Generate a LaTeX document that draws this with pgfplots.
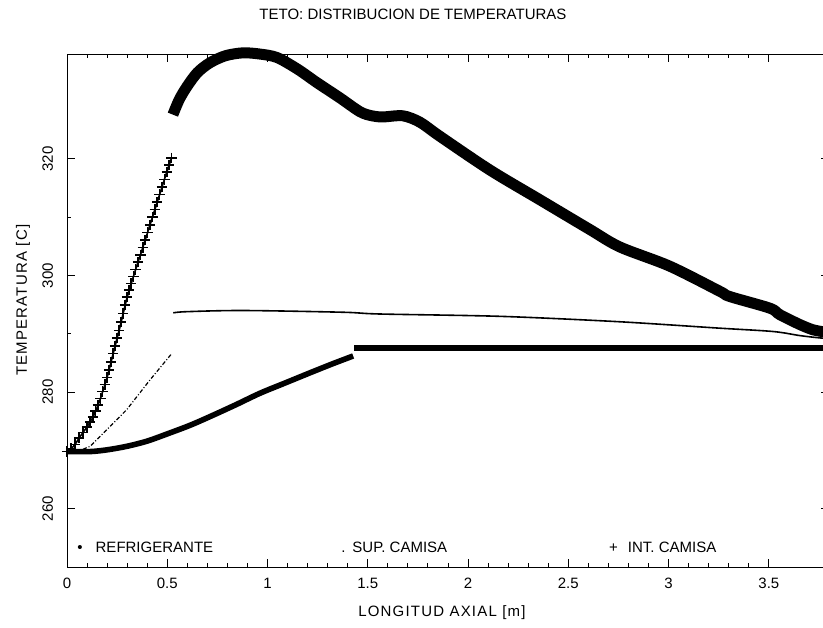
\documentclass[border=0pt]{standalone}
\usepackage{fontspec}
\setmainfont{Liberation Sans}
\usepackage{pgfplots}
\pgfplotsset{compat=1.18}

% curvas de temperatura
\pgfplotstableread{
x y
0     269.8
0.115 269.8
0.20  270.1
0.298 270.7
0.40  271.6
0.513 273.0
0.613 274.3
0.713 275.8
0.84  277.8
0.962 279.8
1.09  281.6
1.211 283.3
1.32  284.8
1.427 286.2
}\refriga

\pgfplotstableread{
x y
1.432 287.6
2.0   287.6
2.5   287.6
3.0   287.6
3.5   287.6
3.8   287.6
}\refrigb

\pgfplotstableread{
x y
0.08  270.2
0.115 270.7
0.20  273.6
0.298 277.0
0.414 282.1
0.522 286.6
}\supa

\pgfplotstableread{
x y
0.530 293.6
0.597 293.8
0.879 294.0
1.377 293.7
1.560 293.4
2.159 293.0
2.740 292.1
3.240 291.0
3.520 290.4
3.654 289.7
3.754 289.3
3.800 289.2
}\supb

% INT. CAMISA, tramo marcado con cruces
\pgfplotstableread{
x y
0     269.8
0.02  270.3
0.04  271.0
0.06  272.1
0.08  273.1
0.10  274.0
0.115 274.9
0.13  275.7
0.143 276.8
0.155 277.8
0.167 278.9
0.178 280.1
0.189 281.3
0.20  282.5
0.21  283.8
0.22  285.2
0.23  286.6
0.24  287.9
0.25  289.3
0.26  290.6
0.27  292.0
0.28  293.5
0.29  294.9
0.30  296.3
0.31  297.5
0.32  298.6
0.331 299.8
0.342 301.0
0.354 302.3
0.366 303.5
0.378 304.8
0.39  306.1
0.402 307.4
0.414 308.7
0.426 310.0
0.438 311.3
0.45  312.6
0.462 313.9
0.474 315.2
0.486 316.5
0.498 317.8
0.51  319.0
0.522 320.2
}\inta

\pgfplotstableread{
x y
0.528 327.6
0.56  330.2
0.598 332.4
0.65  334.8
0.713 336.5
0.79  337.7
0.877 338.2
0.96  338.0
1.047 337.4
1.15  335.4
1.246 333.1
1.36  330.5
1.461 328.1
1.52  327.4
1.575 327.2
1.675 327.4
1.76  326.3
1.859 323.9
2.109 318.1
2.358 313.0
2.607 307.9
2.757 304.9
3.006 301.6
3.255 297.3
3.305 296.4
3.505 294.4
3.554 293.3
3.654 291.6
3.719 290.7
3.762 290.4
3.80  290.1
}\intb

\begin{document}
\begin{tikzpicture}[font=\fontsize{7.5}{9}\selectfont]
\begin{axis}[
    scale only axis,
    width=381pt, height=256.5pt,
    xmin=0, xmax=3.8,
    ymin=250, ymax=338,
    xtick={0,0.5,...,3.5},
    ytick={260,280,300,320},
    minor x tick num=4,
    minor y tick num=1,
    tick align=inside,
    major tick length=4pt,
    minor tick length=2pt,
    axis line style={line width=0.5pt},
    every tick/.style={black, line width=0.5pt},
    /pgf/number format/assume math mode=true,
    xticklabel style={yshift=-2pt},
    yticklabel style={rotate=90, anchor=south, yshift=3.5pt},
    title={TETO: DISTRIBUCION DE TEMPERATURAS},
    title style={at={(axis description cs:0.454,1.053)}, anchor=center},
    xlabel={\addfontfeature{LetterSpace=8}LONGITUD AXIAL [m]},
    xlabel style={at={(axis description cs:0.492,-0.088)}, anchor=center},
    ylabel={\addfontfeature{LetterSpace=8}TEMPERATURA [C]},
    ylabel style={at={(axis description cs:-0.0577,0.52)}, anchor=center},
    clip=false,
]
\addplot[black, line width=2.8pt, smooth] table {\refriga};
\addplot[black, line width=2.8pt] table {\refrigb};
\addplot[black, line width=0.6pt, dash pattern=on 2pt off 1pt on 0.5pt off 1pt] table {\supa};
\addplot[black, line width=0.8pt, smooth] table {\supb};
\addplot[black, line width=0.8pt, mark=+, mark size=2.6pt,
    mark options={line width=0.8pt}] table {\inta};
\addplot[black, line width=5.5pt, smooth] table {\intb};

\node[anchor=west, inner sep=0pt] at (axis cs:0.05,253.4)
    {\textbullet\hspace{6.5pt}REFRIGERANTE};
\node[anchor=west, inner sep=0pt] at (axis cs:1.366,253.4)
    {.\hspace{3.5pt}SUP.\ CAMISA};
\node[anchor=west, inner sep=0pt] at (axis cs:2.702,253.4)
    {+\hspace{5pt}INT.\ CAMISA};
\end{axis}
\pgfresetboundingbox
\path[use as bounding box] (-33.5pt,-30pt) rectangle (378pt,283.5pt);
\end{tikzpicture}
\end{document}
